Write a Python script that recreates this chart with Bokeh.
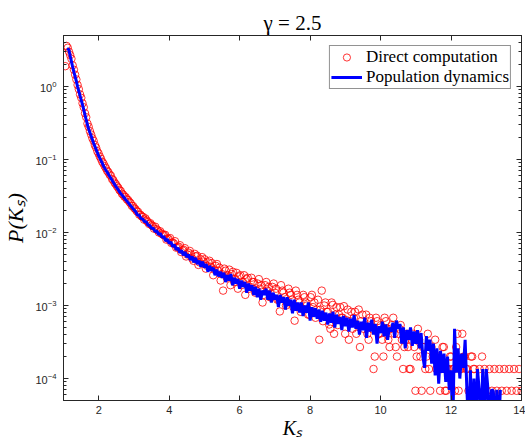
import numpy as np
from bokeh.plotting import figure
from bokeh.models import (Range1d, LinearAxis, LogAxis, FixedTicker, LogTicker,
                          Legend, LegendItem, CustomJSTickFormatter)
from bokeh.embed import file_html
from bokeh.resources import INLINE

# ---------------- data ----------------
x_ticks = [2, 4, 6, 8, 10, 12, 14]
x_limits = [1, 14]
y_limits = [5e-5, 5]

# Direct computation, part A: K_s grid start / step and P(K_s) values
red_start, red_step = 1.05, 0.07
p_red = [
    1.9, 3.4, 2.7, 1.95, 1.45, 1.05, 0.78, 0.59, 0.43, 0.31,
    0.245, 0.196, 0.158, 0.130, 0.110, 0.093, 0.081, 0.070, 0.062, 0.054,
    0.048, 0.043, 0.038, 0.034, 0.031, 0.0285, 0.0262, 0.0232, 0.0215, 0.0196,
    0.0176, 0.0166, 0.0150, 0.0146, 0.0131, 0.0126, 0.0113, 0.0111, 0.0100, 0.0097,
    0.0092, 0.0080, 0.0081, 0.0072, 0.0071, 0.0062, 0.0064, 0.0054, 0.0058, 0.0047,
    0.0053, 0.0050, 0.0041, 0.0047, 0.0036, 0.0043, 0.0040, 0.0032, 0.0039, 0.0034,
    0.0026, 0.0035, 0.0030, 0.0022, 0.0016, 0.0030, 0.0026, 0.0019, 0.0029, 0.0023,
    0.0017, 0.0026, 0.0021, 0.0014, 0.0024, 0.0018, 0.0021, 0.0015, 0.0020, 0.0017,
    0.0011, 0.0019, 0.0016, 0.0013, 0.0018, 0.0015, 0.0012, 0.00083, 0.0016, 0.0013,
    0.0011, 0.0015, 0.0012, 0.00062, 0.0014, 0.0011, 0.00090, 0.0013, 0.0010, 0.00075,
    0.0014, 0.0011, 0.00088, 0.00034, 0.0016, 0.0010, 0.00082, 0.00055, 0.0011, 0.00041,
    0.00095, 0.00075, 0.00068, 0.00098, 0.00063, 0.00034, 0.00082, 0.00068, 0.00041, 0.00088,
    0.00061, 0.00048, 0.00075, 0.00034, 0.00061, 0.000135, 0.00068, 0.00041, 0.00054, 0.00020,
    0.00061, 0.00034, 0.00048, 0.00068, 0.00027, 0.00041, 0.00054, 0.000135, 0.00034, 0.00027,
    0.000135, 0.00041, 0.000068, 0.00048, 0.00020, 0.00027, 0.000135, 0.00041, 0.000068, 0.00020,
    0.00034, 0.00020, 0.000068, 0.00027, 0.000068, 0.000135, 0.00020, 0.000135, 0.000068, 0.00041,
    0.000135, 0.00041, 0.00020, 0.000135, 0.000068, 0.00020, 0.000135, 0.000068, 0.000135, 0.00020,
    0.000135, 0.000068, 0.000135, 0.000068, 0.000135, 0.000068, 0.000135, 0.000068, 0.000135, 0.000068,
    0.000135, 0.000068, 0.000135, 0.000068, 0.000135, 0.000068,
]

# Direct computation, part B (points lying between those of part A)
red_b_start, red_b_step = 1.085, 0.07
p_red_b = [
    3.6, 3.0, 2.4, 1.7, 1.25, 0.92, 0.70, 0.52, 0.38, 0.28,
    0.22, 0.180, 0.146, 0.121, 0.102, 0.088, 0.076, 0.067, 0.060, 0.052,
    0.046, 0.041, 0.037, 0.033, 0.0305, 0.0278, 0.0252, 0.0230, 0.0208, 0.0192,
    0.0175, 0.0164, 0.0156, 0.0139, 0.0134, 0.0122, 0.0120, 0.0107, 0.0104, 0.0094,
    0.0093, 0.0083, 0.0084, 0.0073, 0.0076, 0.0063, 0.0067, 0.0057, 0.0061, 0.0050,
    0.0056, 0.0044, 0.0051, 0.0048, 0.0039, 0.0046, 0.0043, 0.0035, 0.0041, 0.0038,
    0.0031, 0.0037, 0.0033, 0.0027, 0.0032, 0.0024, 0.0031, 0.0027, 0.0021, 0.0028,
    0.0025, 0.0019, 0.0026, 0.0023, 0.0017, 0.0024, 0.0021, 0.0016, 0.0023, 0.0019,
    0.0014, 0.0021, 0.0018, 0.0013, 0.0020, 0.0017, 0.0012, 0.0019, 0.0015, 0.0010,
    0.0017, 0.0014, 0.00095, 0.0016, 0.0012, 0.00082, 0.0014, 0.0011, 0.00075, 0.0013,
    0.00095, 0.00068, 0.0012, 0.00088, 0.00061, 0.0011, 0.00082, 0.00048, 0.00102, 0.00075,
    0.00054, 0.00095, 0.00068, 0.00041, 0.00088, 0.00061, 0.00048, 0.00082, 0.00054, 0.00027,
    0.00075, 0.00054, 0.00041, 0.00068, 0.00048, 0.00020, 0.00061, 0.00041, 0.00034, 0.00068,
    0.00048, 0.00027, 0.00054, 0.00041, 0.00020, 0.00048, 0.00034, 0.00027, 0.00041, 0.000135,
    0.00034, 0.00027, 0.00020, 0.00034, 0.000068, 0.00027, 0.00020, 0.000135, 0.00027, 0.00020,
    0.000135, 0.00020, 0.000135, 0.00027, 0.000068, 0.000135, 0.00020, 0.000135, 0.00027, 0.000068,
    0.000135, 0.00020, 0.000135, 0.000068, 0.00020, 0.000135,
]

# Population dynamics: K_s grid start / step and P(K_s) values
blue_start, blue_step = 1.10, 0.05
p_blue = [
    3.3, 3.2, 2.5, 1.95, 1.55, 1.26, 1.0, 0.81, 0.66, 0.54,
    0.43, 0.34, 0.275, 0.234, 0.20, 0.17, 0.148, 0.129, 0.112, 0.100,
    0.089, 0.079, 0.072, 0.066, 0.060, 0.055, 0.050, 0.0457, 0.0417, 0.0389,
    0.0355, 0.0331, 0.0309, 0.0288, 0.0269, 0.0251, 0.0234, 0.0219, 0.0204,
    0.0193, 0.0174, 0.0172, 0.0155, 0.0153, 0.0141, 0.0140, 0.0126, 0.0125, 0.0113,
    0.0115, 0.0103, 0.0105, 0.0094, 0.0097, 0.0086, 0.0088, 0.0077, 0.0081, 0.0071,
    0.0074, 0.0064, 0.0068, 0.0058, 0.0062, 0.0053, 0.0057, 0.0049, 0.0054, 0.0046,
    0.0050, 0.0042, 0.0047, 0.0039, 0.0045, 0.0037, 0.0041, 0.0034, 0.0040, 0.0033,
    0.0037, 0.0029, 0.0035, 0.0030, 0.0033, 0.0026, 0.0031, 0.0025, 0.0029, 0.0024,
    0.0028, 0.0021, 0.0026, 0.0022, 0.0027, 0.0019, 0.0024, 0.0020, 0.0023, 0.0017,
    0.0022, 0.0018, 0.0021, 0.0015, 0.0020, 0.0016, 0.0019, 0.0014, 0.0018, 0.0013,
    0.0017, 0.0012, 0.0016, 0.0014, 0.0017, 0.0012, 0.0016, 0.0011, 0.0015, 0.0012,
    0.0014, 0.00095, 0.0014, 0.0011, 0.0013, 0.00088, 0.0013, 0.0010, 0.0012, 0.00078,
    0.0012, 0.00085, 0.0011, 0.00080, 0.0011, 0.00072, 0.0010, 0.00080, 0.0011, 0.00062,
    0.00095, 0.00070, 0.00092, 0.00066, 0.00088, 0.00060, 0.00085, 0.00062, 0.00080, 0.00055,
    0.00078, 0.00058, 0.00082, 0.00050, 0.00075, 0.00056, 0.00070, 0.00046, 0.00072, 0.00052,
    0.00068, 0.00044, 0.00066, 0.00050, 0.00074, 0.00048, 0.00062, 0.00040, 0.00060, 0.00046,
    0.00068, 0.00036, 0.00058, 0.00044, 0.00064, 0.00040, 0.00056, 0.00030, 0.00052, 0.00042,
    0.00060, 0.00038, 0.00055, 0.00034, 0.00050, 0.00044, 0.00058, 0.00036, 0.00062, 0.00048,
    0.00056, 0.00030, 0.00050, 0.00026, 0.00046, 0.00034, 0.00050, 0.00028, 0.00044, 0.00030,
    0.00046, 0.00026, 0.00042, 0.00020, 0.00014, 0.00038, 0.00024, 0.00034, 0.00016, 0.00030,
    0.00011, 0.00026, 0.000085, 0.00024, 0.00012, 0.00022, 0.00009, 0.00020, 0.00007, 0.00013,
    0.00002, 0.00048, 0.00012, 0.00026, 0.00010, 0.00022, 0.00014, 0.00034, 0.00007, 0.00002,
    0.00013, 0.00002, 0.00010, 0.00002, 0.000135, 0.00007, 0.00002, 0.000135, 0.00002, 0.000135,
    0.00007, 0.00002, 0.00007, 0.000068, 0.00002, 0.00007, 0.00002, 0.00007,
]

ks_red = np.concatenate([
    np.round(red_start + red_step * np.arange(len(p_red)), 3),
    np.round(red_b_start + red_b_step * np.arange(len(p_red_b)), 3)])
ps_red = list(p_red) + list(p_red_b)
ks_blue = np.round(blue_start + blue_step * np.arange(len(p_blue)), 3)

series_labels = ["Direct computation", "Population dynamics"]
title_text = "\u03b3 = 2.5"
x_label = "K\u209b"
y_label = "P(K\u209b)"

# ---------------- figure ----------------
AX = "#262626"
SERIF = "Liberation Serif"
p = figure(width=525, height=441,
           x_range=Range1d(*x_limits), y_range=Range1d(*y_limits),
           y_axis_type="log", output_backend="svg", toolbar_location=None,
           min_border_left=60, min_border_right=4, min_border_top=35,
           min_border_bottom=40)
p.grid.visible = False
p.outline_line_color = AX
p.outline_line_width = 1
p.background_fill_color = "white"
p.border_fill_color = "white"


def style(ax, show_labels=True):
    ax.axis_line_color = AX
    ax.major_tick_line_color = AX
    ax.minor_tick_line_color = AX
    ax.major_tick_in = 5
    ax.major_tick_out = 0
    ax.minor_tick_in = 3
    ax.minor_tick_out = 0
    ax.major_label_text_font = "Liberation Sans"
    ax.major_label_text_color = AX
    ax.axis_label_text_font = SERIF
    ax.axis_label_text_font_style = "italic"
    ax.axis_label_text_color = "black"
    if show_labels:
        ax.major_label_text_font_size = "11px"
        ax.major_label_standoff = 5
    else:
        ax.formatter = CustomJSTickFormatter(code="return ''")
        ax.major_label_text_font_size = "1px"
        ax.major_label_standoff = 0


xb = p.xaxis[0]
xb.ticker = FixedTicker(ticks=x_ticks)
style(xb)
xb.minor_tick_line_color = None
xb.axis_label = x_label
xb.axis_label_text_font_size = "20px"
xb.axis_label_standoff = 0

yl = p.yaxis[0]
yl.ticker = LogTicker(num_minor_ticks=10)
style(yl)
yl.major_label_standoff = 7
yl.axis_label = y_label
yl.axis_label_text_font_size = "22px"
yl.axis_label_standoff = 4

# top axis carries the title text as its label
xt = LinearAxis(ticker=FixedTicker(ticks=x_ticks))
style(xt, False)
xt.minor_tick_line_color = None
xt.axis_label = title_text
xt.axis_label_text_font_style = "normal"
xt.axis_label_text_font_size = "21px"
xt.axis_label_standoff = 1
p.add_layout(xt, "above")

yr = LogAxis(ticker=LogTicker(num_minor_ticks=10))
style(yr, False)
p.add_layout(yr, "right")

r_red = p.scatter(ks_red, ps_red, marker="circle", size=7.5, fill_color=None,
                  line_color="#ff0000", line_width=0.8)
r_blue = p.line(ks_blue, p_blue, line_color="#0000ff", line_width=3)

legend = Legend(items=[LegendItem(label=series_labels[0], renderers=[r_red]),
                       LegendItem(label=series_labels[1], renderers=[r_blue])],
                location="top_right")
legend.label_text_font = SERIF
legend.label_text_font_size = "17px"
legend.label_text_color = "black"
legend.border_line_color = AX
legend.border_line_width = 1
legend.background_fill_alpha = 1
legend.glyph_width = 31
legend.glyph_height = 18
legend.label_height = 18
legend.spacing = 0
legend.padding = 1
legend.margin = 10
legend.label_standoff = 4
p.add_layout(legend)

open("out.html", "w").write(file_html(p, INLINE))
